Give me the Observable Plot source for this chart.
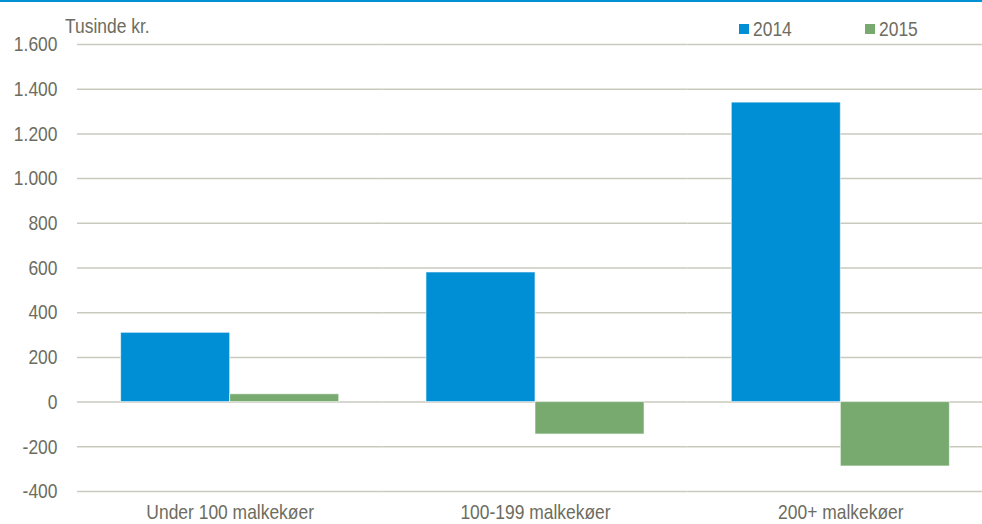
<!DOCTYPE html>
<html>
<head>
<meta charset="utf-8">
<script src="https://cdn.jsdelivr.net/npm/d3@7"></script>
<script src="https://cdn.jsdelivr.net/npm/@observablehq/plot@0.6"></script>
<style>
  html, body { margin: 0; padding: 0; background: #fff; overflow: hidden; width: 982px; height: 524px; }
  #wrap { position: relative; width: 982px; height: 524px; overflow: hidden; }
  #topline { position: absolute; left: 0; top: 0; width: 982px; height: 2px; background: #0090d4; }
  .lbl { position: absolute; font-family: "Liberation Sans", Arial, sans-serif; font-size: 21px; color: #6d6c60; line-height: 1; white-space: nowrap; transform: scaleX(0.83); transform-origin: 0 0; }
  .sw { position: absolute; width: 10px; height: 10px; }
  #chart { position: absolute; left: 0; top: 0; }
</style>
</head>
<body>
<div id="wrap">
  <div id="chart"></div>
  <div id="topline"></div>
  <div class="lbl" id="unit" style="left:65px; top:15px;"></div>
  <div id="legend"></div>
</div>
<script>
const categories = ["Under 100 malkekøer", "100-199 malkekøer", "200+ malkekøer"];
const years = ["2014", "2015"];
const values2014 = [310, 580, 1340];
const values2015 = [35, -145, -288];
const yTicks = [-400, -200, 0, 200, 400, 600, 800, 1000, 1200, 1400, 1600];
const unitLabel = "Tusinde kr.";
const colors = ["#008fd5", "#78aa70"];

const fontFamily = '"Liberation Sans", Arial, sans-serif';
const textColor = "#6d6c60";
const gridColor = "#cac9bf";
const narrow = 0.83;

const data = categories.flatMap((c, i) => [
  {cat: c, year: years[0], value: values2014[i]},
  {cat: c, year: years[1], value: values2015[i]}
]);

const fmt = d => d3.format(",")(d).replace(/,/g, ".").replace("\u2212", "-");

const chart = Plot.plot({
  width: 993,
  height: 524,
  marginLeft: 77,
  marginRight: 0,
  marginTop: 44,
  marginBottom: 33,
  style: {fontFamily, fontSize: "21px", color: textColor, background: "transparent", maxWidth: "none", overflow: "visible"},
  fx: {domain: categories, padding: 0, round: false, label: null},
  x: {domain: years, paddingInner: 0, paddingOuter: 0.4, round: false, axis: null},
  y: {domain: [-400, 1600], label: null, axis: null},
  color: {domain: years, range: colors},
  marks: [
    Plot.ruleY(yTicks, {stroke: gridColor, strokeWidth: 1.5}),
    Plot.barY(data, {fx: "cat", x: "year", y: "value", fill: "year", stroke: "#ffffff", strokeOpacity: 0.6, strokeWidth: 1}),
    Plot.axisY({ticks: yTicks, tickFormat: fmt, tickSize: 0, tickPadding: 20, label: null, fill: textColor}),
    Plot.axisFx({anchor: "bottom", tickSize: 0, tickPadding: 13, label: null, fill: textColor})
  ]
});
document.getElementById("chart").appendChild(chart);
// condense the axis texts to mimic a narrow typeface
chart.querySelectorAll("text").forEach(t => {
  const len = t.getComputedTextLength();
  if (len > 0) {
    t.setAttribute("textLength", len * narrow);
    t.setAttribute("lengthAdjust", "spacingAndGlyphs");
  }
});
document.getElementById("unit").textContent = unitLabel;

const legend = document.getElementById("legend");
const legendX = [739, 865];
years.forEach((y, i) => {
  const sw = document.createElement("div");
  sw.className = "sw";
  sw.style.left = legendX[i] + "px";
  sw.style.top = "24px";
  sw.style.background = colors[i];
  legend.appendChild(sw);
  const t = document.createElement("div");
  t.className = "lbl";
  t.style.left = (legendX[i] + 14) + "px";
  t.style.top = "18px";
  t.textContent = y;
  legend.appendChild(t);
});
</script>
</body>
</html>
